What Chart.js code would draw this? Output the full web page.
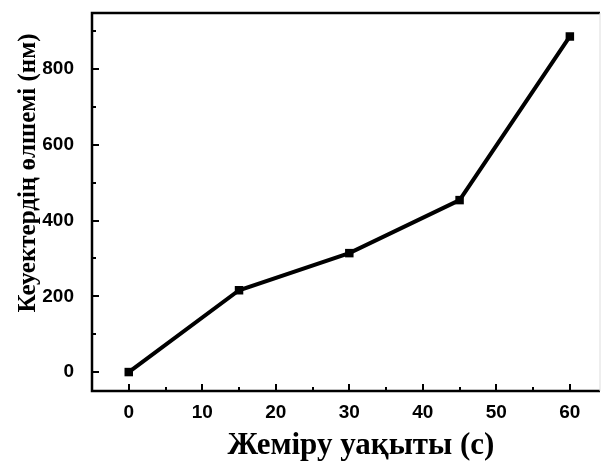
<!DOCTYPE html>
<html>
<head>
<meta charset="utf-8">
<script src="https://cdn.jsdelivr.net/npm/chart.js@4.4.1/dist/chart.umd.min.js"></script>
<style>
  html, body { margin: 0; padding: 0; background: #fff; }
  #wrap { width: 606px; height: 461px; }
</style>
</head>
<body>
<div id="wrap"><canvas id="myChart" width="606" height="461"></canvas></div>
<script>
// etching time (s) vs pore size (nm)
const etchTime = [0, 15, 30, 45, 60]
const poreSize = [0, 216, 314, 454, 886]

const xTicks = [0, 10, 20, 30, 40, 50, 60]
const xMinorTicks = [5, 15, 25, 35, 45, 55]
const yTicks = [0, 200, 400, 600, 800]
const yMinorTicks = [100, 300, 500, 700, 900]

const xTitle = "Жеміру уақыты (с)"
const yTitle = "Кеуектердің өлшемі (нм)"

// frame, inward ticks and axis titles
const framePlugin = {
    id: "frame",
    afterDatasetsDraw(chart) {
        const ctx = chart.ctx
        const a = chart.chartArea
        const xs = chart.scales.x
        const ys = chart.scales.y
        ctx.save()
        ctx.strokeStyle = "#000"
        ctx.lineWidth = 2
        for (const v of xTicks) {
            const px = Math.round(xs.getPixelForValue(v))
            ctx.beginPath(); ctx.moveTo(px, a.bottom); ctx.lineTo(px, a.bottom - 7); ctx.stroke()
        }
        for (const v of xMinorTicks) {
            const px = Math.round(xs.getPixelForValue(v))
            ctx.beginPath(); ctx.moveTo(px, a.bottom); ctx.lineTo(px, a.bottom - 4); ctx.stroke()
        }
        for (const v of yTicks) {
            const py = Math.round(ys.getPixelForValue(v))
            ctx.beginPath(); ctx.moveTo(a.left, py); ctx.lineTo(a.left + 7, py); ctx.stroke()
        }
        for (const v of yMinorTicks) {
            const py = Math.round(ys.getPixelForValue(v))
            ctx.beginPath(); ctx.moveTo(a.left, py); ctx.lineTo(a.left + 4, py); ctx.stroke()
        }
        ctx.lineWidth = 2.5
        ctx.beginPath()
        ctx.moveTo(a.right, a.top); ctx.lineTo(a.left, a.top); ctx.lineTo(a.left, a.bottom); ctx.lineTo(a.right, a.bottom)
        ctx.stroke()
        ctx.strokeStyle = "#ddd"
        ctx.lineWidth = 1
        ctx.beginPath(); ctx.moveTo(a.right, a.top); ctx.lineTo(a.right, a.bottom); ctx.stroke()

        ctx.fillStyle = "#000"
        ctx.font = "bold 31px 'Liberation Serif', 'Times New Roman', serif"
        ctx.textAlign = "center"
        ctx.textBaseline = "alphabetic"
        ctx.fillText(xTitle, 361, 454)
        ctx.translate(35, 173)
        ctx.rotate(-Math.PI / 2)
        ctx.font = "bold 25px 'Liberation Serif', 'Times New Roman', serif"
        ctx.fillText(yTitle, 0, 0)
        ctx.restore()
    }
}

const dataChart = new Chart("myChart", {
    type: "line",
    data: {
        datasets: [{
            data: etchTime.map((t, i) => ({x: t, y: poreSize[i]})),
            borderColor: "#000",
            backgroundColor: "#000",
            borderWidth: 4,
            pointStyle: "rect",
            pointRadius: 6,
            pointBorderWidth: 0,
            tension: 0
        }]
    },
    options: {
        responsive: false,
        animation: false,
        layout: { padding: { top: 13, right: 4, left: 0, bottom: 0 } },
        plugins: { legend: { display: false }, tooltip: { enabled: false } },
        scales: {
            x: {
                type: "linear",
                min: -5,
                max: 64.1,
                grid: { display: false },
                border: { display: false },
                afterBuildTicks: (scale) => { scale.ticks = xTicks.map((v) => ({value: v})) },
                afterFit: (scale) => {
                    scale.height = 70
                    scale.paddingLeft = 0
                    scale.paddingRight = 0
                },
                ticks: {
                    color: "#000",
                    padding: 2,
                    maxRotation: 0,
                    font: { family: "'Liberation Sans', Arial, sans-serif", size: 19, weight: "bold" }
                }
            },
            y: {
                min: -50,
                max: 948,
                grid: { display: false },
                border: { display: false },
                afterBuildTicks: (scale) => { scale.ticks = yTicks.map((v) => ({value: v})) },
                afterFit: (scale) => {
                    scale.width = 92
                    scale.paddingTop = 0
                    scale.paddingBottom = 0
                },
                ticks: {
                    color: "#000",
                    padding: 10,
                    font: { family: "'Liberation Sans', Arial, sans-serif", size: 19, weight: "bold" }
                }
            }
        }
    },
    plugins: [framePlugin]
})
</script>
</body>
</html>
